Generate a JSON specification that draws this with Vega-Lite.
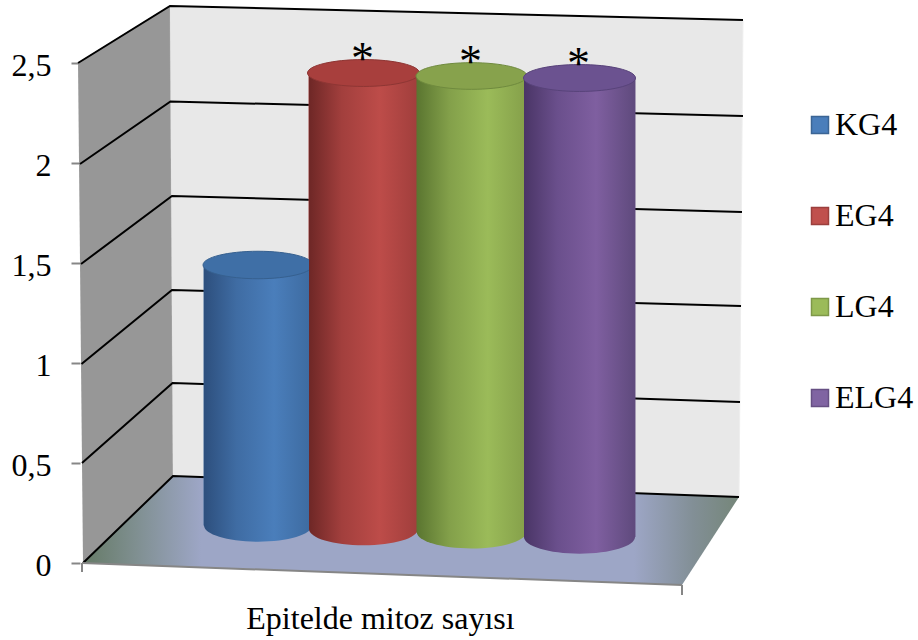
{
  "$schema": "https://vega.github.io/schema/vega-lite/v6.json",
  "width": 918,
  "height": 640,
  "padding": 0,
  "autosize": {"type": "none"},
  "background": "white",
  "config": {
    "view": {"stroke": null},
    "font": "Liberation Serif",
    "axis": {"grid": false, "labelFont": "Liberation Serif", "titleFont": "Liberation Serif"},
    "legend": {"labelFont": "Liberation Serif"}
  },
  "datasets": {
    "bars": [
      {"series": "KG4", "x0": 0.2017, "x1": 0.3817, "cx": 0.2917, "top": 1.49, "base": 0.1875, "note": ""},
      {"series": "EG4", "x0": 0.3767, "x1": 0.5583, "cx": 0.4675, "top": 2.45, "base": 0.17, "note": "*"},
      {"series": "LG4", "x0": 0.5558, "x1": 0.7383, "cx": 0.6475, "top": 2.435, "base": 0.155, "note": "*"},
      {"series": "ELG4", "x0": 0.735, "x1": 0.92, "cx": 0.8275, "top": 2.425, "base": 0.13, "note": "*"}
    ],
    "walls": [
      {"wall": "left", "i": 0, "pos": -0.0083, "val": 2.5},
      {"wall": "left", "i": 1, "pos": 0.145, "val": 2.785},
      {"wall": "left", "i": 2, "pos": 0.15, "val": 0.435},
      {"wall": "left", "i": 3, "pos": 0, "val": 0},
      {"wall": "back", "i": 0, "pos": 0.145, "val": 2.785},
      {"wall": "back", "i": 1, "pos": 1.1, "val": 2.715},
      {"wall": "back", "i": 2, "pos": 1.0933, "val": 0.33},
      {"wall": "back", "i": 3, "pos": 0.15, "val": 0.435},
      {"wall": "floor", "i": 0, "pos": 0, "val": 0},
      {"wall": "floor", "i": 1, "pos": 0.15, "val": 0.435},
      {"wall": "floor", "i": 2, "pos": 1.0933, "val": 0.33},
      {"wall": "floor", "i": 3, "pos": 0.9983, "val": -0.11}
    ],
    "grid": [
      {"level": 2.5, "i": 0, "pos": -0.0083, "val": 2.5},
      {"level": 2.5, "i": 1, "pos": 0.145, "val": 2.785},
      {"level": 2.5, "i": 2, "pos": 1.1, "val": 2.715},
      {"level": 2, "i": 0, "pos": -0.005, "val": 1.995},
      {"level": 2, "i": 1, "pos": 0.1458, "val": 2.3075},
      {"level": 2, "i": 2, "pos": 1.1, "val": 2.235},
      {"level": 1.5, "i": 0, "pos": -0.0033, "val": 1.495},
      {"level": 1.5, "i": 1, "pos": 0.1483, "val": 1.835},
      {"level": 1.5, "i": 2, "pos": 1.0983, "val": 1.755},
      {"level": 1, "i": 0, "pos": -0.0025, "val": 0.995},
      {"level": 1, "i": 1, "pos": 0.1483, "val": 1.365},
      {"level": 1, "i": 2, "pos": 1.0967, "val": 1.285},
      {"level": 0.5, "i": 0, "pos": -0.0017, "val": 0.5},
      {"level": 0.5, "i": 1, "pos": 0.1492, "val": 0.9},
      {"level": 0.5, "i": 2, "pos": 1.095, "val": 0.805},
      {"level": 0, "i": 0, "pos": 0, "val": 0},
      {"level": 0, "i": 1, "pos": 0.15, "val": 0.435},
      {"level": 0, "i": 2, "pos": 1.0933, "val": 0.33}
    ],
    "edges": [
      {"edge": "front", "i": 0, "pos": -0.0017, "val": 0},
      {"edge": "front", "i": 1, "pos": 0.9983, "val": -0.11},
      {"edge": "tickA", "i": 0, "pos": -0.0017, "val": 0},
      {"edge": "tickA", "i": 1, "pos": -0.0017, "val": -0.045},
      {"edge": "tickB", "i": 0, "pos": 0.9983, "val": -0.11},
      {"edge": "tickB", "i": 1, "pos": 0.9983, "val": -0.16}
    ]
  },
  "layer": [
    {
      "data": {"name": "walls"},
      "transform": [{"filter": "datum.wall === 'left'"}],
      "mark": {"type": "line", "fill": "#979797", "stroke": "#aaaaaa", "strokeWidth": 1},
      "encoding": {
        "x": {
          "field": "pos", "type": "quantitative",
          "scale": {"domain": [-0.13833, 1.39167], "nice": false, "zero": false},
          "axis": {
            "orient": "bottom", "labels": false, "ticks": false, "domain": false,
            "title": "Epitelde mitoz sayısı", "titleFontSize": 32, "titleFontWeight": "normal",
            "titleColor": "black", "titleX": 380, "titleY": -12,
            "titleAlign": "center", "titleBaseline": "alphabetic"
          }
        },
        "y": {
          "field": "val", "type": "quantitative",
          "scale": {"domain": [-0.385, 2.815], "nice": false, "zero": false},
          "axis": {
            "orient": "left", "offset": -80, "values": [0, 0.5, 1, 1.5, 2, 2.5],
            "labelExpr": "replace(format(datum.value, '~g'), '.', ',')", "title": null, "domain": false,
            "tickColor": "#868686", "tickWidth": 2, "tickSize": 9, "labelPadding": 20,
            "labelFontSize": 32, "labelColor": "black", "labelOffset": 2
          }
        },
        "order": {"field": "i", "type": "ordinal"}
      }
    },
    {
      "data": {"name": "walls"},
      "transform": [{"filter": "datum.wall === 'back'"}],
      "mark": {"type": "line", "fill": "#e8e8e8", "stroke": "#eeeeee", "strokeWidth": 1},
      "encoding": {
        "x": {"field": "pos", "type": "quantitative"},
        "y": {"field": "val", "type": "quantitative"},
        "order": {"field": "i", "type": "ordinal"}
      }
    },
    {
      "data": {"name": "walls"},
      "transform": [{"filter": "datum.wall === 'floor'"}],
      "mark": {
        "type": "line", "strokeWidth": 0,
        "fill": {
          "gradient": "linear", "x1": 0, "y1": 0, "x2": 1, "y2": 0,
          "stops": [
            {"offset": 0, "color": "#657a66"},
            {"offset": 0.08, "color": "#7f8f90"},
            {"offset": 0.18, "color": "#9da6c6"},
            {"offset": 0.84, "color": "#9da6c6"},
            {"offset": 0.93, "color": "#828f96"},
            {"offset": 1, "color": "#758679"}
          ]
        }
      },
      "encoding": {
        "x": {"field": "pos", "type": "quantitative"},
        "y": {"field": "val", "type": "quantitative"},
        "order": {"field": "i", "type": "ordinal"}
      }
    },
    {
      "data": {"name": "grid"},
      "mark": {"type": "line", "color": "black", "strokeWidth": 2},
      "encoding": {
        "x": {"field": "pos", "type": "quantitative"},
        "y": {"field": "val", "type": "quantitative"},
        "detail": {"field": "level"},
        "order": {"field": "i", "type": "ordinal"}
      }
    },
    {
      "data": {"name": "edges"},
      "mark": {"type": "line", "color": "#868686", "strokeWidth": 2},
      "encoding": {
        "x": {"field": "pos", "type": "quantitative"},
        "y": {"field": "val", "type": "quantitative"},
        "detail": {"field": "edge"},
        "order": {"field": "i", "type": "ordinal"}
      }
    },
    {
      "data": {"name": "bars"},
      "mark": {"type": "rect", "strokeWidth": 1},
      "encoding": {
        "x": {"field": "x0", "type": "quantitative"},
        "x2": {"field": "x1"},
        "y": {"field": "top", "type": "quantitative"},
        "y2": {"field": "base"},
        "fill": {
          "field": "series", "type": "nominal",
          "scale": {"domain": ["KG4", "EG4", "LG4", "ELG4"], "range": ["#4a7ebb", "#c0504d", "#9bbb59", "#8064a2"]},
          "legend": {
            "title": null, "orient": "none", "legendX": 804, "legendY": 109, "symbolType": "square",
            "symbolSize": 289, "symbolStrokeWidth": 1.5, "labelFontSize": 32, "labelColor": "black",
            "labelOffset": -1, "rowPadding": 59
          }
        },
        "stroke": {
          "field": "series", "type": "nominal",
          "scale": {"domain": ["KG4", "EG4", "LG4", "ELG4"], "range": ["#3b6595", "#9b3f3d", "#7e9848", "#664f83"]},
          "legend": {
            "title": null, "orient": "none", "legendX": 804, "legendY": 109, "symbolType": "square",
            "symbolSize": 289, "symbolStrokeWidth": 1.5, "labelFontSize": 32, "labelColor": "black",
            "labelOffset": -1, "rowPadding": 59
          }
        }
      }
    },
    {
      "data": {"name": "bars"},
      "transform": [{"filter": "datum.series === 'KG4'"}],
      "layer": [
        {
          "mark": {
            "type": "point", "filled": true, "opacity": 1, "size": 11664,
            "shape": "M-1,0A1,0.3,0,1,0,1,0A1,0.3,0,1,0,-1,0Z",
            "fill": {"gradient": "linear", "x1": 0, "y1": 0, "x2": 1, "y2": 0, "stops": [
              {"offset": 0, "color": "#2d4f7d"}, {"offset": 0.3, "color": "#3f6ca3"}, {"offset": 0.65, "color": "#4a7ebb"}, {"offset": 1, "color": "#3d6a9f"}]}
          },
          "encoding": {"x": {"field": "cx", "type": "quantitative"}, "y": {"field": "base", "type": "quantitative"}}
        },
        {
          "mark": {
            "type": "rect",
            "fill": {"gradient": "linear", "x1": 0, "y1": 0, "x2": 1, "y2": 0, "stops": [
              {"offset": 0, "color": "#2d4f7d"}, {"offset": 0.3, "color": "#3f6ca3"}, {"offset": 0.65, "color": "#4a7ebb"}, {"offset": 1, "color": "#3d6a9f"}]}
          },
          "encoding": {"x": {"field": "x0", "type": "quantitative"}, "x2": {"field": "x1"}, "y": {"field": "top", "type": "quantitative"}, "y2": {"field": "base"}}
        },
        {
          "mark": {
            "type": "point", "filled": true, "opacity": 1, "size": 12100, "fill": "#3f6fa6", "stroke": "#36608f", "strokeWidth": 1,
            "shape": "M-1,0A1,0.25,0,1,0,1,0A1,0.25,0,1,0,-1,0Z"
          },
          "encoding": {"x": {"field": "cx", "type": "quantitative"}, "y": {"field": "top", "type": "quantitative"}}
        }
      ]
    },
    {
      "data": {"name": "bars"},
      "transform": [{"filter": "datum.series === 'EG4'"}],
      "layer": [
        {
          "mark": {
            "type": "point", "filled": true, "opacity": 1, "size": 11881,
            "shape": "M-1,0A1,0.3,0,1,0,1,0A1,0.3,0,1,0,-1,0Z",
            "fill": {"gradient": "linear", "x1": 0, "y1": 0, "x2": 1, "y2": 0, "stops": [
              {"offset": 0, "color": "#6e2726"}, {"offset": 0.3, "color": "#a23f3d"}, {"offset": 0.65, "color": "#bd4c49"}, {"offset": 1, "color": "#a03e3c"}]}
          },
          "encoding": {"x": {"field": "cx", "type": "quantitative"}, "y": {"field": "base", "type": "quantitative"}}
        },
        {
          "mark": {
            "type": "rect",
            "fill": {"gradient": "linear", "x1": 0, "y1": 0, "x2": 1, "y2": 0, "stops": [
              {"offset": 0, "color": "#6e2726"}, {"offset": 0.3, "color": "#a23f3d"}, {"offset": 0.65, "color": "#bd4c49"}, {"offset": 1, "color": "#a03e3c"}]}
          },
          "encoding": {"x": {"field": "x0", "type": "quantitative"}, "x2": {"field": "x1"}, "y": {"field": "top", "type": "quantitative"}, "y2": {"field": "base"}}
        },
        {
          "mark": {
            "type": "point", "filled": true, "opacity": 1, "size": 12544, "fill": "#a83f3d", "stroke": "#8e3634", "strokeWidth": 1,
            "shape": "M-1,0A1,0.24,0,1,0,1,0A1,0.24,0,1,0,-1,0Z"
          },
          "encoding": {"x": {"field": "cx", "type": "quantitative"}, "y": {"field": "top", "type": "quantitative"}}
        }
      ]
    },
    {
      "data": {"name": "bars"},
      "transform": [{"filter": "datum.series === 'LG4'"}],
      "layer": [
        {
          "mark": {
            "type": "point", "filled": true, "opacity": 1, "size": 11990,
            "shape": "M-1,0A1,0.3,0,1,0,1,0A1,0.3,0,1,0,-1,0Z",
            "fill": {"gradient": "linear", "x1": 0, "y1": 0, "x2": 1, "y2": 0, "stops": [
              {"offset": 0, "color": "#5a7530"}, {"offset": 0.3, "color": "#83a04a"}, {"offset": 0.65, "color": "#9bbb59"}, {"offset": 1, "color": "#85a04a"}]}
          },
          "encoding": {"x": {"field": "cx", "type": "quantitative"}, "y": {"field": "base", "type": "quantitative"}}
        },
        {
          "mark": {
            "type": "rect",
            "fill": {"gradient": "linear", "x1": 0, "y1": 0, "x2": 1, "y2": 0, "stops": [
              {"offset": 0, "color": "#5a7530"}, {"offset": 0.3, "color": "#83a04a"}, {"offset": 0.65, "color": "#9bbb59"}, {"offset": 1, "color": "#85a04a"}]}
          },
          "encoding": {"x": {"field": "x0", "type": "quantitative"}, "x2": {"field": "x1"}, "y": {"field": "top", "type": "quantitative"}, "y2": {"field": "base"}}
        },
        {
          "mark": {
            "type": "point", "filled": true, "opacity": 1, "size": 12321, "fill": "#87a24c", "stroke": "#6f8a3e", "strokeWidth": 1,
            "shape": "M-1,0A1,0.24,0,1,0,1,0A1,0.24,0,1,0,-1,0Z"
          },
          "encoding": {"x": {"field": "cx", "type": "quantitative"}, "y": {"field": "top", "type": "quantitative"}}
        }
      ]
    },
    {
      "data": {"name": "bars"},
      "transform": [{"filter": "datum.series === 'ELG4'"}],
      "layer": [
        {
          "mark": {
            "type": "point", "filled": true, "opacity": 1, "size": 12321,
            "shape": "M-1,0A1,0.3,0,1,0,1,0A1,0.3,0,1,0,-1,0Z",
            "fill": {"gradient": "linear", "x1": 0, "y1": 0, "x2": 1, "y2": 0, "stops": [
              {"offset": 0, "color": "#4a3566"}, {"offset": 0.3, "color": "#6a4f8c"}, {"offset": 0.65, "color": "#7f5fa0"}, {"offset": 1, "color": "#5f4a7d"}]}
          },
          "encoding": {"x": {"field": "cx", "type": "quantitative"}, "y": {"field": "base", "type": "quantitative"}}
        },
        {
          "mark": {
            "type": "rect",
            "fill": {"gradient": "linear", "x1": 0, "y1": 0, "x2": 1, "y2": 0, "stops": [
              {"offset": 0, "color": "#4a3566"}, {"offset": 0.3, "color": "#6a4f8c"}, {"offset": 0.65, "color": "#7f5fa0"}, {"offset": 1, "color": "#5f4a7d"}]}
          },
          "encoding": {"x": {"field": "x0", "type": "quantitative"}, "x2": {"field": "x1"}, "y": {"field": "top", "type": "quantitative"}, "y2": {"field": "base"}}
        },
        {
          "mark": {
            "type": "point", "filled": true, "opacity": 1, "size": 12544, "fill": "#6b5290", "stroke": "#58437a", "strokeWidth": 1,
            "shape": "M-1,0A1,0.24,0,1,0,1,0A1,0.24,0,1,0,-1,0Z"
          },
          "encoding": {"x": {"field": "cx", "type": "quantitative"}, "y": {"field": "top", "type": "quantitative"}}
        }
      ]
    },
    {
      "data": {"name": "bars"},
      "transform": [{"filter": "datum.note !== ''"}],
      "mark": {"type": "text", "fontSize": 46, "color": "black", "align": "center", "baseline": "alphabetic", "dx": -1, "dy": 1},
      "encoding": {
        "x": {"field": "cx", "type": "quantitative"},
        "y": {"field": "top", "type": "quantitative"},
        "text": {"field": "note"}
      }
    }
  ]
}
